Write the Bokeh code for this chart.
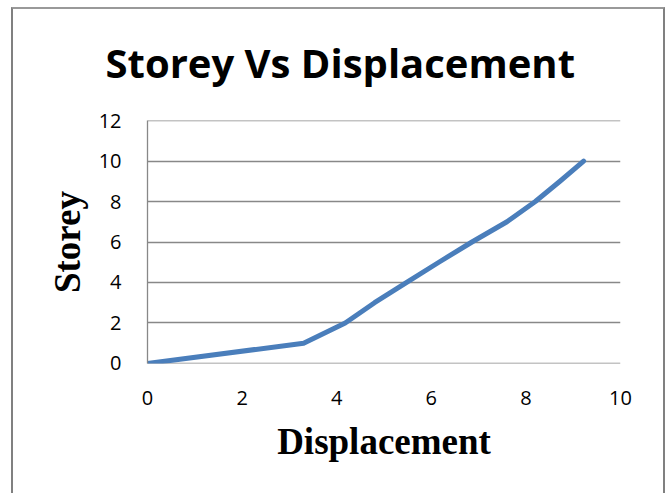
from bokeh.plotting import figure
from bokeh.models import Range1d, FixedTicker, Title
from bokeh.embed import file_html
from bokeh.resources import INLINE

displacement = [0, 3.3, 4.18, 4.8, 5.48, 6.16, 6.86, 7.6, 8.2, 8.72, 9.22]
storey = [0, 1, 2, 3, 4, 5, 6, 7, 8, 9, 10]
x_ticks = [0, 2, 4, 6, 8, 10]
y_ticks = [0, 2, 4, 6, 8, 10, 12]

p = figure(width=654, height=477, output_backend="svg", toolbar_location=None,
           x_range=Range1d(0, 10), y_range=Range1d(-0.002, 12.002),
           min_border_left=147, min_border_right=34, min_border_top=120, min_border_bottom=114,
           title=None)
p.outline_line_color = None
p.background_fill_color = "white"
p.border_fill_color = "white"

p.line(displacement, storey, line_color="#4a7ebb", line_width=5, line_join="round", line_cap="round")

grey = "#888888"
p.xgrid.grid_line_color = None
p.ygrid.grid_line_color = grey
p.ygrid.grid_line_width = 1.3
p.ygrid.ticker = FixedTicker(ticks=y_ticks)

p.xaxis.ticker = FixedTicker(ticks=x_ticks)
p.yaxis.ticker = FixedTicker(ticks=y_ticks)
for ax in (p.xaxis[0], p.yaxis[0]):
    ax.major_tick_line_color = None
    ax.minor_tick_line_color = None
    ax.major_tick_out = 0
    ax.major_tick_in = 0
    ax.major_label_text_font = "Open Sans"
    ax.major_label_text_font_size = "20px"
    ax.major_label_text_color = "black"
    ax.axis_label_text_font = "Liberation Serif"
    ax.axis_label_text_font_style = "bold"
    ax.axis_label_text_font_size = "37px"
    ax.axis_label_text_color = "black"

p.xaxis.axis_line_color = None
p.yaxis.axis_line_color = grey
p.yaxis.axis_line_width = 1.3
p.xaxis.major_label_standoff = 27
p.yaxis.major_label_standoff = 26
p.xaxis.axis_label = "Displacement"
p.yaxis.axis_label = "Storey"
p.xaxis.axis_label_standoff = 13
p.yaxis.axis_label_standoff = 8

t = Title(text="Storey Vs Displacement", align="left", offset=-42,
          text_font="Open Sans", text_font_style="bold", text_font_size="40px",
          text_line_height=1.0, text_color="black", standoff=62)
p.add_layout(t, "above")

# outer chart border drawn with CSS (bottom edge lies outside the picture)
p.stylesheets = [
    ":host::after { content: ''; position: absolute; left: 11px; top: 7px; "
    "width: 654px; height: 486px; box-sizing: border-box; "
    "border-left: 2px solid #808080; border-right: 2px solid #808080; "
    "border-top: 2px solid #999999; pointer-events: none; z-index: 10; }"
]

open("out.html", "w").write(file_html(p, INLINE))
